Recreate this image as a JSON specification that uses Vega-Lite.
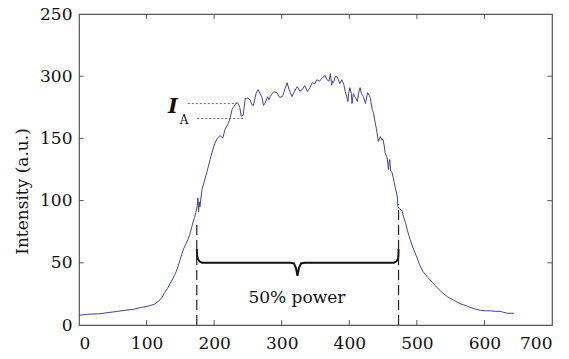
{
  "$schema": "https://vega.github.io/schema/vega-lite/v6.json",
  "width": 473,
  "height": 311,
  "autosize": "none",
  "padding": {"left": 79, "top": 14, "right": 17, "bottom": 34},
  "config": {
    "view": {"stroke": "#555555", "strokeWidth": 1.2},
    "font": "DejaVu Serif",
    "axis": {
      "grid": false,
      "domain": false,
      "ticks": false,
      "labelFont": "DejaVu Serif",
      "labelFontSize": 17,
      "labelColor": "#111111",
      "titleFont": "DejaVu Serif",
      "titleFontSize": 17,
      "titleFontWeight": "normal",
      "titleColor": "#111111"
    }
  },
  "datasets": {
    "curve": [
      {"x": 0, "y": 7.8}, {"x": 13, "y": 8.6}, {"x": 30, "y": 9.0}, {"x": 43, "y": 10.0}, {"x": 55, "y": 10.8}, {"x": 68, "y": 11.8},
      {"x": 80, "y": 12.6}, {"x": 93, "y": 14.2}, {"x": 104, "y": 15.4}, {"x": 112, "y": 16.8}, {"x": 118, "y": 19.2}, {"x": 123, "y": 22.4}, {"x": 127, "y": 26.3},
      {"x": 131, "y": 29.5}, {"x": 135, "y": 33.5}, {"x": 139, "y": 37.5}, {"x": 142, "y": 40.7}, {"x": 145, "y": 44.5}, {"x": 148, "y": 49.5}, {"x": 152, "y": 56.8},
      {"x": 155, "y": 61.5}, {"x": 158, "y": 64.8}, {"x": 161, "y": 68.5}, {"x": 164, "y": 72.8}, {"x": 167, "y": 79}, {"x": 169, "y": 83.3}, {"x": 171, "y": 86.5}, {"x": 173, "y": 90.5},
      {"x": 175, "y": 96}, {"x": 176, "y": 102}, {"x": 177, "y": 91}, {"x": 178, "y": 99}, {"x": 179, "y": 95}, {"x": 182, "y": 108.9}, {"x": 185.5, "y": 115.5},
      {"x": 189.5, "y": 123.4}, {"x": 194, "y": 133}, {"x": 197, "y": 139}, {"x": 201, "y": 145.9}, {"x": 205, "y": 150.3}, {"x": 209, "y": 152.3},
      {"x": 211, "y": 151}, {"x": 213, "y": 150.5}, {"x": 216, "y": 157.1}, {"x": 219, "y": 160}, {"x": 221, "y": 162}, {"x": 224, "y": 167}, {"x": 226.5, "y": 173.2},
      {"x": 229, "y": 175.5}, {"x": 231, "y": 177.3}, {"x": 234, "y": 178.9}, {"x": 236, "y": 177.5}, {"x": 238, "y": 174.9}, {"x": 240, "y": 168}, {"x": 243, "y": 168.5},
      {"x": 246, "y": 182}, {"x": 249, "y": 182.5}, {"x": 253, "y": 181.2}, {"x": 256, "y": 177}, {"x": 258, "y": 176.4}, {"x": 262, "y": 186}, {"x": 265, "y": 189.2},
      {"x": 268, "y": 186}, {"x": 271, "y": 182.8}, {"x": 273, "y": 176.5}, {"x": 275, "y": 178}, {"x": 279, "y": 183.5}, {"x": 281, "y": 181}, {"x": 283, "y": 183.6}, {"x": 288, "y": 187.5}, {"x": 293, "y": 186.8},
      {"x": 297, "y": 183}, {"x": 301, "y": 183.6}, {"x": 305, "y": 190}, {"x": 308, "y": 194.8}, {"x": 311, "y": 189}, {"x": 315, "y": 183.6}, {"x": 319, "y": 188}, {"x": 323, "y": 191.6},
      {"x": 327, "y": 188}, {"x": 330, "y": 189}, {"x": 334, "y": 192.5}, {"x": 338, "y": 187.6}, {"x": 342, "y": 191}, {"x": 345, "y": 194.8}, {"x": 349, "y": 194}, {"x": 352, "y": 197.2},
      {"x": 356, "y": 196}, {"x": 360, "y": 198.8}, {"x": 364, "y": 200.5}, {"x": 367, "y": 197.2}, {"x": 370, "y": 196}, {"x": 372, "y": 202}, {"x": 374, "y": 193}, {"x": 375, "y": 196},
      {"x": 377, "y": 195}, {"x": 379, "y": 199.6}, {"x": 382, "y": 199.6}, {"x": 386, "y": 194}, {"x": 389, "y": 197.2}, {"x": 392, "y": 193}, {"x": 394, "y": 187.6}, {"x": 396, "y": 184},
      {"x": 398, "y": 179.6}, {"x": 399, "y": 186}, {"x": 401, "y": 190.8}, {"x": 403, "y": 186}, {"x": 404, "y": 178}, {"x": 406, "y": 185.9}, {"x": 409, "y": 183}, {"x": 412, "y": 179.6},
      {"x": 414, "y": 187}, {"x": 416, "y": 190.8}, {"x": 418, "y": 186}, {"x": 421, "y": 183.6}, {"x": 424, "y": 178}, {"x": 427, "y": 186.8}, {"x": 429, "y": 185}, {"x": 431, "y": 182.8},
      {"x": 434, "y": 173.2}, {"x": 436, "y": 170}, {"x": 438, "y": 163.5}, {"x": 440, "y": 158}, {"x": 441, "y": 154.7}, {"x": 443, "y": 147.5},
      {"x": 446, "y": 151.5}, {"x": 448, "y": 149}, {"x": 450, "y": 149.1}, {"x": 452, "y": 143}, {"x": 453, "y": 138.6}, {"x": 456, "y": 134.6},
      {"x": 458, "y": 125}, {"x": 459, "y": 131}, {"x": 460, "y": 133}, {"x": 461, "y": 124}, {"x": 463, "y": 123}, {"x": 465, "y": 118.6},
      {"x": 468, "y": 110.6}, {"x": 471, "y": 103.4}, {"x": 472, "y": 95.3}, {"x": 474, "y": 93.5}, {"x": 478, "y": 92.1}, {"x": 480, "y": 87.5},
      {"x": 483, "y": 82.5}, {"x": 486, "y": 76}, {"x": 490, "y": 68.8}, {"x": 495, "y": 61}, {"x": 500, "y": 54.4}, {"x": 504, "y": 48.5}, {"x": 509, "y": 43.1},
      {"x": 516, "y": 38.2}, {"x": 523, "y": 34.3}, {"x": 530, "y": 30}, {"x": 537, "y": 26.3}, {"x": 545, "y": 22.8}, {"x": 554, "y": 20.0}, {"x": 564, "y": 17.2}, {"x": 575, "y": 15.0},
      {"x": 585, "y": 13.0}, {"x": 594, "y": 11.8}, {"x": 602, "y": 11.4}, {"x": 609, "y": 11.4}, {"x": 616, "y": 11.0}, {"x": 623, "y": 11.0}, {"x": 628, "y": 10.2}, {"x": 634, "y": 9.4},
      {"x": 644, "y": 9.4}
    ],
    "brace": [
      {"x": 174.3, "y": 61}, {"x": 174.8, "y": 56}, {"x": 176, "y": 53}, {"x": 178.5, "y": 51},
      {"x": 182, "y": 50.1}, {"x": 313, "y": 50.1}, {"x": 318, "y": 49.5}, {"x": 321, "y": 46},
      {"x": 323.3, "y": 39.5}, {"x": 325.6, "y": 46}, {"x": 328.6, "y": 49.5}, {"x": 334, "y": 50.1},
      {"x": 466, "y": 50.1}, {"x": 469.5, "y": 51}, {"x": 472, "y": 53}, {"x": 472.6, "y": 56},
      {"x": 472.9, "y": 61}
    ],
    "guides": [
      {"x": 174.3, "y": 0, "y2": 84},
      {"x": 472.9, "y": 0, "y2": 97}
    ],
    "dots": [
      {"x": 161, "x2": 234, "y": 178},
      {"x": 175, "x2": 243, "y": 166}
    ],
    "xticks": [
      {"x": 100, "y": 0, "y2": 4}, {"x": 200, "y": 0, "y2": 4}, {"x": 300, "y": 0, "y2": 4},
      {"x": 400, "y": 0, "y2": 4}, {"x": 500, "y": 0, "y2": 4}, {"x": 600, "y": 0, "y2": 4},
      {"x": 100, "y": 246, "y2": 250}, {"x": 200, "y": 246, "y2": 250}, {"x": 300, "y": 246, "y2": 250},
      {"x": 400, "y": 246, "y2": 250}, {"x": 500, "y": 246, "y2": 250}, {"x": 600, "y": 246, "y2": 250}
    ],
    "yticks": [
      {"y": 50, "x": 0, "x2": 7}, {"y": 100, "x": 0, "x2": 7}, {"y": 150, "x": 0, "x2": 7}, {"y": 200, "x": 0, "x2": 7},
      {"y": 50, "x": 693, "x2": 700}, {"y": 100, "x": 693, "x2": 700}, {"y": 150, "x": 693, "x2": 700}, {"y": 200, "x": 693, "x2": 700}
    ]
  },
  "layer": [
    {
      "data": {"name": "curve"},
      "mark": {"type": "line", "color": "#42448c", "strokeWidth": 1, "interpolate": "linear"},
      "encoding": {
        "x": {
          "field": "x", "type": "quantitative",
          "scale": {"domain": [0, 700], "nice": false},
          "axis": {"values": [0, 100, 200, 300, 400, 500, 600, 700], "title": null, "labelPadding": 10, "orient": "bottom"}
        },
        "y": {
          "field": "y", "type": "quantitative",
          "scale": {"domain": [0, 250], "nice": false},
          "axis": {
            "values": [0, 50, 100, 150, 200, 250],
            "labelExpr": "datum.value == 200 ? '300' : datum.label",
            "labelPadding": 7,
            "title": "Intensity (a.u.)",
            "titleAngle": -90,
            "titleX": -57,
            "titleY": 177,
            "titleAlign": "center",
            "titleBaseline": "middle",
            "orient": "left"
          }
        }
      }
    },
    {
      "data": {"name": "xticks"},
      "mark": {"type": "rule", "color": "#555555", "strokeWidth": 1},
      "encoding": {
        "x": {"field": "x", "type": "quantitative"},
        "y": {"field": "y", "type": "quantitative"},
        "y2": {"field": "y2"}
      }
    },
    {
      "data": {"name": "yticks"},
      "mark": {"type": "rule", "color": "#555555", "strokeWidth": 1},
      "encoding": {
        "x": {"field": "x", "type": "quantitative"},
        "x2": {"field": "x2"},
        "y": {"field": "y", "type": "quantitative"}
      }
    },
    {
      "data": {"name": "brace"},
      "mark": {"type": "line", "color": "#111111", "strokeWidth": 2},
      "encoding": {
        "x": {"field": "x", "type": "quantitative"},
        "y": {"field": "y", "type": "quantitative"}
      }
    },
    {
      "data": {"name": "guides"},
      "mark": {"type": "rule", "color": "#222222", "strokeWidth": 1.2, "strokeDash": [10, 5]},
      "encoding": {
        "x": {"field": "x", "type": "quantitative"},
        "y": {"field": "y", "type": "quantitative"},
        "y2": {"field": "y2"}
      }
    },
    {
      "data": {"name": "dots"},
      "mark": {"type": "rule", "color": "#444444", "strokeWidth": 0.8, "strokeDash": [2, 2]},
      "encoding": {
        "x": {"field": "x", "type": "quantitative"},
        "x2": {"field": "x2"},
        "y": {"field": "y", "type": "quantitative"}
      }
    },
    {
      "data": {"values": [{"t": "50% power", "x": 322.5, "y": 22}]},
      "mark": {"type": "text", "font": "DejaVu Serif", "fontSize": 17, "color": "#111111", "align": "center", "baseline": "middle"},
      "encoding": {
        "x": {"field": "x", "type": "quantitative"},
        "y": {"field": "y", "type": "quantitative"},
        "text": {"field": "t"}
      }
    },
    {
      "data": {"values": [{"t": "I", "x": 139, "y": 175.6}]},
      "mark": {"type": "text", "font": "DejaVu Serif", "fontSize": 21, "fontStyle": "italic", "fontWeight": "bold", "color": "#111111", "align": "center", "baseline": "middle"},
      "encoding": {
        "x": {"field": "x", "type": "quantitative"},
        "y": {"field": "y", "type": "quantitative"},
        "text": {"field": "t"}
      }
    },
    {
      "data": {"values": [{"t": "A", "x": 155.5, "y": 164.5}]},
      "mark": {"type": "text", "font": "DejaVu Serif", "fontSize": 12, "color": "#111111", "align": "center", "baseline": "middle"},
      "encoding": {
        "x": {"field": "x", "type": "quantitative"},
        "y": {"field": "y", "type": "quantitative"},
        "text": {"field": "t"}
      }
    }
  ]
}
